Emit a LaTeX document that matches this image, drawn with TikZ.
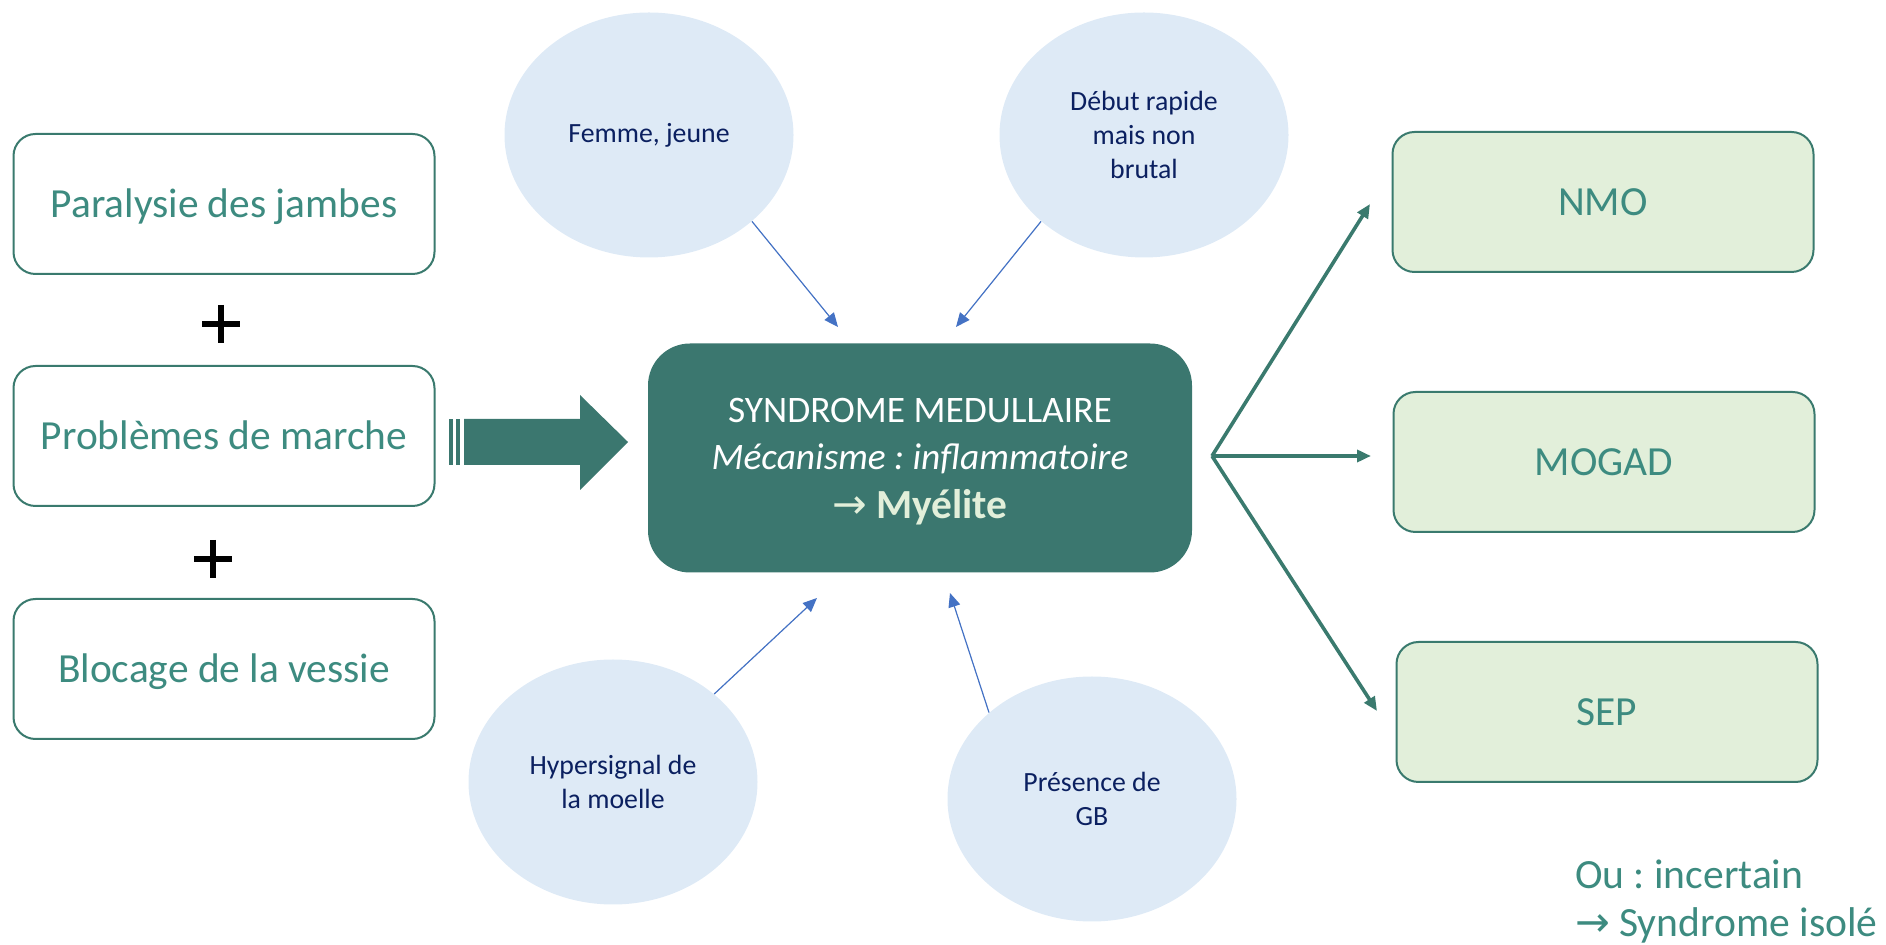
\documentclass[tikz,border=0pt]{standalone}
\usepackage{fontspec}
\setmainfont{Carlito}
\newfontfamily\arrowfont{DejaVu Sans}
\usetikzlibrary{shapes.geometric,arrows.meta}
\frenchspacing

\definecolor{boxline}{HTML}{3A7A6E}
\definecolor{boxtext}{HTML}{3D8B80}
\definecolor{mainfill}{HTML}{3B776F}
\definecolor{bubblefill}{HTML}{DEEAF6}
\definecolor{bubbletext}{HTML}{0B2060}
\definecolor{greenfill}{HTML}{E2EFDA}
\definecolor{pointer}{HTML}{4472C4}

\tikzset{
  sympbox/.style={draw=boxline, line width=1pt, fill=white, rounded corners=11pt,
    minimum width=210.5pt, minimum height=70pt, inner sep=0pt,
    text height=17.4pt, text depth=4.1pt,
    text=boxtext, font=\fontsize{20.7}{24}\selectfont},
  outbox/.style={sympbox, fill=greenfill},
  mainbox/.style={fill=mainfill, rounded corners=21pt, minimum width=272pt,
    minimum height=114.5pt, inner sep=0pt, align=center, text=white,
    font=\fontsize{18.7}{23.2}\selectfont},
  bubble/.style={ellipse, fill=bubblefill, minimum width=144.5pt, minimum height=122.5pt,
    inner sep=0pt, align=center, text=bubbletext, font=\fontsize{13.9}{16.85}\selectfont},
  plussign/.style={minimum size=19pt, inner sep=0pt,
    path picture={\draw[line width=2.8pt]
      (path picture bounding box.west) -- (path picture bounding box.east)
      (path picture bounding box.north) -- (path picture bounding box.south);}},
  pointerarrow/.style={draw=pointer, line width=0.6pt,
    -{Triangle[length=7pt, width=6pt]}, fill=pointer},
  branch/.style={draw=boxline, line width=1.8pt, -{Triangle[length=7pt, width=6pt]}},
  note/.style={align=left, text=boxtext, font=\fontsize{20.8}{24.5}\selectfont}
}

\begin{document}
\begin{tikzpicture}[x=0.5pt, y=-0.5pt]
  \useasboundingbox (0,0) rectangle (1886,945);

  % symptoms on the left
  \node[sympbox] (b1) at (224,204) {Paralysie des jambes};
  \node[sympbox] (b2) at (224,436) {Problèmes de marche};
  \node[sympbox] (b3) at (224,669) {Blocage de la vessie};
  \node[plussign] (p1) at (221,324) {};
  \node[plussign] (p2) at (213,559) {};

  % wide striped arrow towards the syndrome
  \fill[mainfill] (449,419) rectangle (453,465);
  \fill[mainfill] (456,419) rectangle (459.5,465);
  \fill[mainfill] (464,419) -- (580,419) -- (580,395) -- (628,442)
    -- (580,490) -- (580,465) -- (464,465) -- cycle;

  % central syndrome (the strut on the first line lowers the text block slightly)
  \node[mainbox] (main) at (920,458) {\rule{0pt}{16pt}SYNDROME MEDULLAIRE\\
    \textit{Mécanisme : inflammatoire}\\[1.5pt]
    {\color{greenfill}{\fontsize{20.7}{23}\selectfont{\arrowfont→} \textbf{Myélite}}}};

  % arguments around it
  \node[bubble] (e1) at (649,135) {Femme, jeune};
  \node[bubble] (e2) at (1144,135) {Début rapide\\mais non\\brutal};
  \node[bubble] (e3) at (613,782) {Hypersignal de\\la moelle};
  \node[bubble] (e4) at (1092,799) {Présence de\\GB};

  \coordinate (a1) at (838,327);
  \coordinate (a2) at (956,327);
  \coordinate (a3) at (817,598);
  \coordinate (a4) at (950,593);
  \draw[pointerarrow] (e1.-40) -- (a1);
  \draw[pointerarrow] (e2.-140) -- (a2);
  \draw[pointerarrow] (e3.41) -- (a3);
  \draw[pointerarrow] (e4.140) -- (a4);

  % possible causes
  \node[outbox] (nmo) at (1603,202) {NMO};
  \node[outbox] (mogad) at (1604,462) {MOGAD};
  \node[outbox] (sep) at (1607,712) {SEP};

  \coordinate (fork) at (1212,456);
  \coordinate (tnmo) at (1370,204);
  \coordinate (tmogad) at (1371,456);
  \coordinate (tsep) at (1377,711);
  \draw[branch] (fork) -- (tnmo);
  \draw[branch] (fork) -- (tmogad);
  \draw[branch] (fork) -- (tsep);

  \node[note, anchor=base west] (alt) at (1568,937)
    {Ou : incertain\\{\arrowfont→} Syndrome isolé};
\end{tikzpicture}
\end{document}
